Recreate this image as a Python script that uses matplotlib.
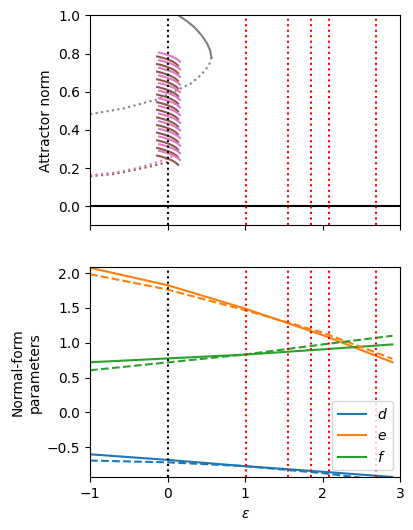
import matplotlib
matplotlib.use("Agg")
import matplotlib.pyplot as plt
import numpy as np

# bifurcation curves (epsilon, attractor norm)
gray_stable_eps = [0.05, 0.14, 0.25, 0.34, 0.43, 0.51, 0.55, 0.566]
gray_stable_r = [1.03, 1.0, 0.97, 0.94, 0.90, 0.853, 0.815, 0.78]
gray_unstable_eps = [0.566, 0.535, 0.43, 0.30, 0.08, -0.13, -0.57, -1.0]
gray_unstable_r = [0.78, 0.739, 0.687, 0.643, 0.60, 0.56, 0.512, 0.482]

pink_tail_eps = [-1.0, -0.7, -0.39, -0.2, -0.07, 0.02, 0.08]
pink_tail_r = [0.163, 0.175, 0.2, 0.222, 0.24, 0.252, 0.267]
brown_tail_eps = [-1.0, -0.7, -0.44, -0.2, -0.05, 0.0]
brown_tail_r = [0.157, 0.168, 0.189, 0.21, 0.226, 0.232]

# one stroke of the snake (offsets from its upper-left end)
stroke_deps = [0.0, 0.05, 0.10, 0.15, 0.20, 0.24, 0.27]
stroke_dr = [0.0, -0.005, -0.011, -0.018, -0.027, -0.037, -0.048]
pink_eps0 = -0.11
brown_eps0 = -0.135
pink_r0 = [0.805, 0.765, 0.725, 0.685, 0.645, 0.605, 0.565, 0.525, 0.485,
           0.445, 0.405, 0.365, 0.325, 0.29]
brown_r0 = [0.785, 0.745, 0.705, 0.665, 0.625, 0.585, 0.545, 0.505, 0.465,
            0.425, 0.385, 0.345, 0.305, 0.265]

# special epsilon values
eps_black = 0.0
eps_red = [1.006, 1.55, 1.85, 2.084, 2.69]

# normal-form parameters (solid and dashed)
eps_nf = [-1.0, 0.0, 1.0, 2.0, 2.9]
d_solid = [-0.60, -0.68, -0.77, -0.85, -0.925]
d_dash = [-0.69, -0.715, -0.77, -0.87, -0.99]
e_solid = [2.075, 1.825, 1.49, 1.11, 0.72]
e_dash = [1.983, 1.763, 1.467, 1.145, 0.77]
f_solid = [0.72, 0.775, 0.83, 0.905, 0.976]
f_dash = [0.605, 0.718, 0.832, 0.976, 1.10]

fig = plt.figure(figsize=(4.13, 5.3), dpi=100)
ax1 = fig.add_axes([0.218, 0.575, 0.751, 0.396])
ax2 = fig.add_axes([0.218, 0.0994, 0.751, 0.396], sharex=ax1)

# top panel
ax1.axhline(0, color="k", lw=1.5)
ax1.plot(gray_stable_eps, gray_stable_r, color="gray", lw=1.5)
ax1.plot(gray_unstable_eps, gray_unstable_r, color="gray", lw=1.5, ls=":")
ax1.plot(brown_tail_eps, brown_tail_r, color="tab:brown", lw=1.5, ls=":")
ax1.plot(pink_tail_eps, pink_tail_r, color="tab:pink", lw=1.5, ls=":")
for r0 in brown_r0:
    ax1.plot(brown_eps0 + np.array(stroke_deps), r0 + np.array(stroke_dr),
             color="tab:brown", lw=1.5)
for r0 in pink_r0:
    ax1.plot(pink_eps0 + np.array(stroke_deps), r0 + np.array(stroke_dr),
             color="tab:pink", lw=1.5)
ax1.axvline(eps_black, color="k", ls=":", lw=1.5)
for e in eps_red:
    ax1.axvline(e, color="r", ls=":", lw=1.5)
ax1.set_ylim(-0.1, 1.0)
ax1.set_ylabel("Attractor norm")
ax1.tick_params(labelbottom=False)

# bottom panel
ax2.plot(eps_nf, d_solid, color="tab:blue", label="$d$")
ax2.plot(eps_nf, e_solid, color="tab:orange", label="$e$")
ax2.plot(eps_nf, f_solid, color="tab:green", label="$f$")
ax2.plot(eps_nf, d_dash, color="tab:blue", ls="--")
ax2.plot(eps_nf, e_dash, color="tab:orange", ls="--")
ax2.plot(eps_nf, f_dash, color="tab:green", ls="--")
ax2.axvline(eps_black, color="k", ls=":", lw=1.5)
for e in eps_red:
    ax2.axvline(e, color="r", ls=":", lw=1.5)
ax2.set_xlim(-1, 3)
ax2.set_ylim(-0.93, 2.08)
ax2.set_xticks([-1, 0, 1, 2, 3])
ax2.set_xlabel(r"$\epsilon$")
ax2.set_ylabel("Normal-form\nparameters")
ax2.legend(loc="lower right")

fig.savefig("out.png", dpi=100)
